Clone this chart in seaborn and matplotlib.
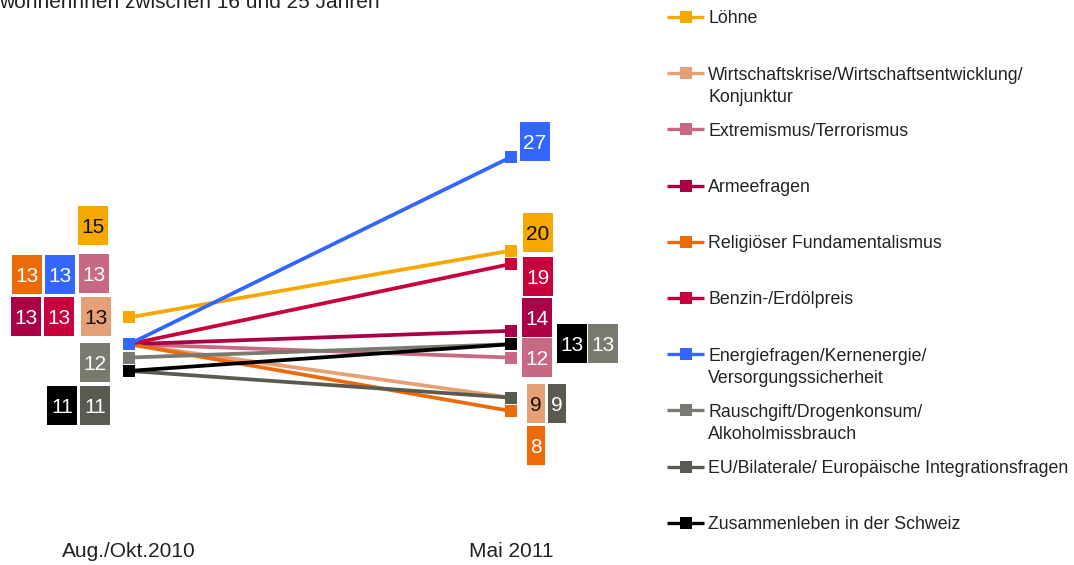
import pandas as pd
import seaborn as sns
import matplotlib
matplotlib.use("Agg")
import matplotlib.pyplot as plt
import matplotlib.transforms as mtransforms
from matplotlib.patches import Rectangle

# Themen (Reihenfolge wie in der Legende)
themen = [
    "Löhne",
    "Wirtschaftskrise/Wirtschaftsentwicklung/\nKonjunktur",
    "Extremismus/Terrorismus",
    "Armeefragen",
    "Religiöser Fundamentalismus",
    "Benzin-/Erdölpreis",
    "Energiefragen/Kernenergie/\nVersorgungssicherheit",
    "Rauschgift/Drogenkonsum/\nAlkoholmissbrauch",
    "EU/Bilaterale/ Europäische Integrationsfragen",
    "Zusammenleben in der Schweiz",
]
zeitpunkte = ["Aug./Okt.2010", "Mai 2011"]
werte_2010 = [15, 13, 13, 13, 13, 13, 13, 12, 11, 11]
werte_2011 = [20, 9, 12, 14, 8, 19, 27, 13, 9, 13]

farben = ["#F5A800", "#E6A075", "#C86882", "#AA0045", "#EB6A0A",
          "#C8003C", "#3366FF", "#7A7A70", "#5A5A50", "#000000"]
textfarben = ["#111111", "#111111", "white", "white", "white",
              "white", "white", "white", "white", "white"]

# Lage der Wertekästchen relativ zum Punkt (Pixel, y nach oben)
versatz_2010 = [(-36, 92), (-33, 28), (-35, 71), (-103, 28), (-102, 70),
                (-70, 28), (-69, 70), (-34, -5), (-34, -35), (-67, -35)]
versatz_2011 = [(27, 18), (25, -6), (26, 0), (26, 13), (25, -34),
                (27, -13), (24, 15), (92, 1), (46, -6), (61, 1)]

df = pd.DataFrame({
    "Thema": themen * 2,
    "pos": [0] * len(themen) + [1] * len(themen),
    "Wert": werte_2010 + werte_2011,
})

sns.set_theme(style="white")
plt.rcParams["font.family"] = ["Liberation Sans", "DejaVu Sans"]
textfarbe = "#222222"

fig = plt.figure(figsize=(10.74, 5.65), dpi=100)
ax = fig.add_axes([0.01341, 0.0832, 0.5691, 0.8519])

sns.lineplot(data=df, x="pos", y="Wert", hue="Thema", hue_order=themen,
             palette=farben, marker="s", markersize=8.6, markeredgewidth=0,
             linewidth=2.7, legend=False, ax=ax)

ax.set_xlim(-0.3, 1.3)
ax.set_ylim(0, 36)
ax.set_xticks([0, 1])
ax.set_xticklabels(zeitpunkte, fontsize=15, color=textfarbe)
ax.set_yticks([])
ax.set_xlabel("")
ax.set_ylabel("")
ax.tick_params(axis="x", length=0, pad=17)
sns.despine(ax=ax, left=True, bottom=True)

# Wertekästchen
for pos, werte, versatz in [(0, werte_2010, versatz_2010), (1, werte_2011, versatz_2011)]:
    for i, v in enumerate(werte):
        trans = mtransforms.IdentityTransform() + mtransforms.ScaledTranslation(pos, v, ax.transData)
        dx, dy = versatz[i]
        w = 6 + 12 * len(str(v))
        h = 39
        ax.add_patch(Rectangle((dx - w / 2, dy - h / 2), w, h, transform=trans,
                               facecolor=farben[i], edgecolor="none", clip_on=False, zorder=5))
        ax.text(dx, dy, str(v), transform=trans, ha="center", va="center_baseline",
                fontsize=15, color=textfarben[i], zorder=6)

# Legende und Titel auf einer Pixel-Ebene
lax = fig.add_axes([0, 0, 1, 1])
lax.set_xlim(0, 1074)
lax.set_ylim(565, 0)
lax.axis("off")

lax.text(-1, 8, "wohnerinnen zwischen 16 und 25 Jahren", ha="left", va="baseline",
         fontsize=15, color=textfarbe)

for i, thema in enumerate(themen):
    y = 17 + 56.2 * i
    lax.plot([667, 704], [y, y], color=farben[i], lw=2.4, solid_capstyle="butt")
    lax.plot([685.5], [y], marker="s", markersize=9, markeredgewidth=0, color=farben[i])
    for k, zeile in enumerate(thema.split("\n")):
        lax.text(708, y + 6.3 + 22.5 * k, zeile, ha="left", va="baseline",
                 fontsize=12.8, color=textfarbe)

fig.savefig("out.png", dpi=100)
